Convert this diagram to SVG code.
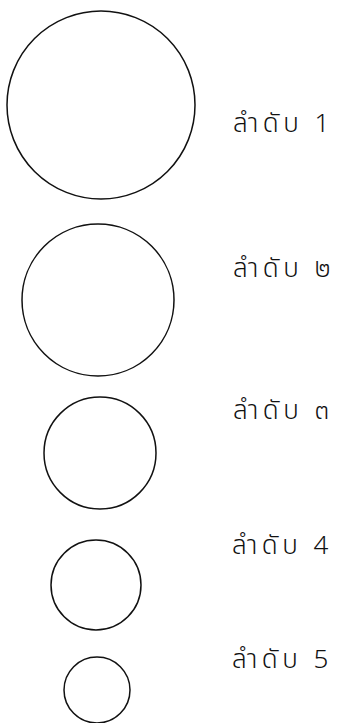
<svg xmlns="http://www.w3.org/2000/svg" width="344" height="723" viewBox="0 0 344 723">
<style>
.c{fill:none;stroke:#111;stroke-width:1.5}
.t{font-family:"Noto Sans Thai","Noto Sans","DejaVu Sans",sans-serif;font-size:26px;font-weight:300;letter-spacing:4.5px;fill:#111}
</style>
<rect width="344" height="723" fill="#fff"/>
<g id="node1"><circle class="c" cx="101" cy="105" r="94"/><text class="t" x="233" y="132">ลำดับ 1</text></g>
<g id="node2"><circle class="c" cx="98" cy="300" r="76"/><text class="t" x="233" y="277">ลำดับ ๒</text></g>
<g id="node3"><circle class="c" cx="100" cy="453" r="56"/><text class="t" x="233" y="419">ลำดับ ๓</text></g>
<g id="node4"><circle class="c" cx="96" cy="585" r="45"/><text class="t" x="232" y="554">ลำดับ 4</text></g>
<g id="node5"><circle class="c" cx="97" cy="690" r="33"/><text class="t" x="232" y="668">ลำดับ 5</text></g>
<g id="connectors"/>
</svg>
